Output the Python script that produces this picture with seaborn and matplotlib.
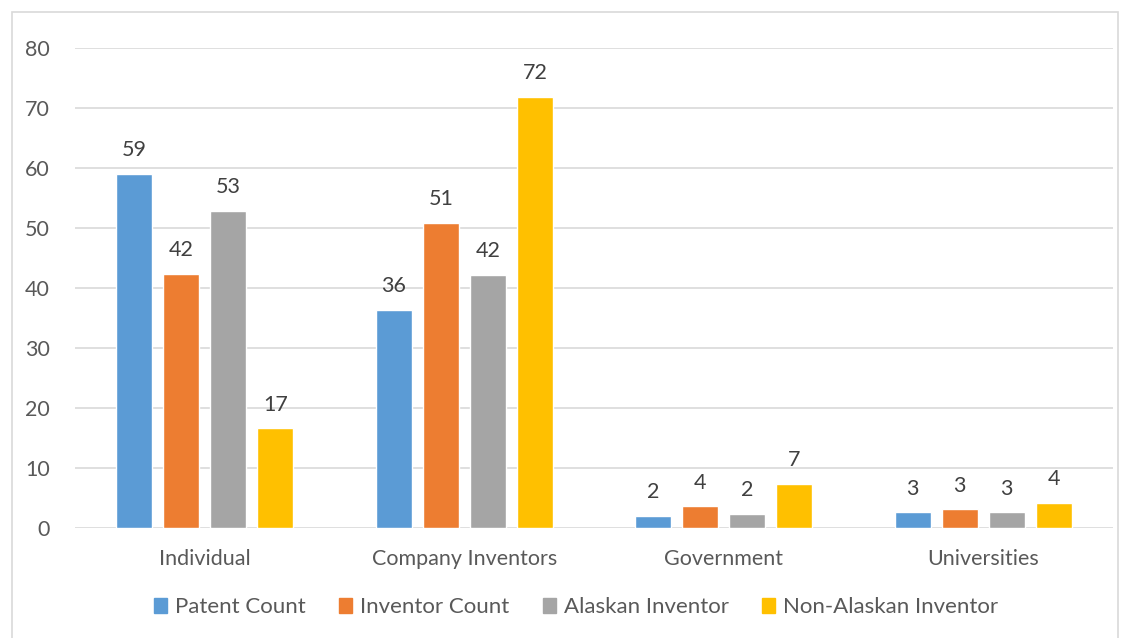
import matplotlib
matplotlib.use("Agg")
import matplotlib.pyplot as plt
from matplotlib.patches import Rectangle
import seaborn as sns
import pandas as pd

# Inventor counts by patent owner type
categories = ["Individual", "Company Inventors", "Government", "Universities"]
series_names = ["Patent Count", "Inventor Count", "Alaskan Inventor", "Non-Alaskan Inventor"]
patent_count = [59.0, 36.3, 1.95, 2.6]
inventor_count = [42.4, 50.9, 3.6, 3.1]
alaskan_inventor = [52.8, 42.2, 2.3, 2.6]
non_alaskan_inventor = [16.6, 71.8, 7.3, 4.2]
y_ticks = [0, 10, 20, 30, 40, 50, 60, 70, 80]

colors = ["#5B9BD5", "#ED7D31", "#A5A5A5", "#FFC000"]

rows = []
for name, vals in zip(series_names,
                      [patent_count, inventor_count, alaskan_inventor, non_alaskan_inventor]):
    for cat, v in zip(categories, vals):
        rows.append({"Category": cat, "Series": name, "Value": v})
df = pd.DataFrame(rows)

sns.set_theme(style="white")
plt.rcParams["font.family"] = ["Lato", "DejaVu Sans"]

fig = plt.figure(figsize=(11.27, 6.38), dpi=100)
ax = fig.add_axes([0.0666, 0.1724, 0.921, 0.7524])

sns.barplot(data=df, x="Category", y="Value", hue="Series", order=categories,
            hue_order=series_names, palette=colors, width=0.725, gap=0.233,
            errorbar=None, saturation=1, ax=ax, zorder=3)

ax.set_ylim(0, 80)
ax.set_xlim(-0.5, 3.5)
ax.set_yticks(y_ticks)
ax.set_xlabel("")
ax.set_ylabel("")
for s in ax.spines.values():
    s.set_visible(False)
ax.yaxis.grid(True, color="#D9D9D9", linewidth=1.2, zorder=0)
ax.set_axisbelow(True)
ax.tick_params(axis="y", length=0, pad=18, labelsize=15.5, labelcolor="#595959")
ax.tick_params(axis="x", length=0, pad=15, labelsize=15.5, labelcolor="#595959")

for cont in ax.containers:
    ax.bar_label(cont, fmt="%.0f", padding=10, fontsize=15.5, color="#404040")

leg = ax.get_legend()
if leg is not None:
    leg.remove()
handles = [Rectangle((0, 0), 1, 1, color=c) for c in colors]
fig.legend(handles, series_names, loc="center", bbox_to_anchor=(0.511, 0.048),
           ncol=4, frameon=False, fontsize=16, handlelength=0.6, handleheight=0.6,
           handletextpad=0.35, columnspacing=1.5, labelcolor="#595959")

# chart frame
fig.patches.append(Rectangle((12 / 1127, -0.01), 1106 / 1127, 1 - 12 / 638 + 0.01,
                             transform=fig.transFigure, fill=False,
                             edgecolor="#D9D9D9", linewidth=1.2))

fig.savefig("out.png", dpi=100, facecolor="white")
